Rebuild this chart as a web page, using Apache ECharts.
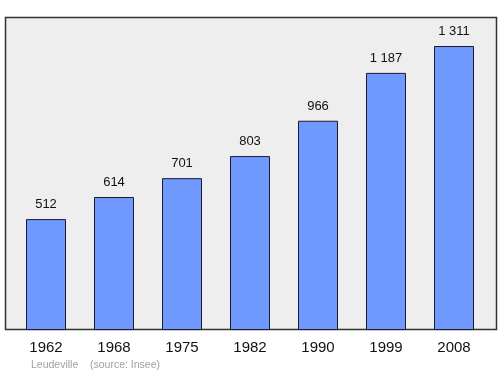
<!DOCTYPE html>
<html><head><meta charset="utf-8">
<script src="https://cdn.jsdelivr.net/npm/echarts@6/dist/echarts.min.js"></script>
<style>html,body{margin:0;padding:0;background:#fff}#c{width:500px;height:374px}</style>
</head><body><div id="c"></div>
<script>
const years = ['1962','1968','1975','1982','1990','1999','2008'];
const population = [512, 614, 701, 803, 966, 1187, 1311];
const sourceText = 'Leudeville    (source: Insee)';

const FONT = 'Liberation Sans, Arial, sans-serif';
const chart = echarts.init(document.getElementById('c'), null, {renderer:'canvas'});
chart.setOption({
  animation:false,
  backgroundColor:'#ffffff',
  title:{text:sourceText,left:26,top:355,textStyle:{fontFamily:FONT,fontSize:10.5,fontWeight:'normal',color:'#a0a0a0'}},
  graphic:[{type:'rect',z:-10,shape:{x:5.5,y:17.5,width:491,height:312},style:{fill:'#eeeeee',stroke:'#333333',lineWidth:1.5}}],
  grid:{left:12,right:12,top:17,bottom:44,containLabel:false},
  xAxis:{type:'category',data:years,axisLine:{show:false},axisTick:{show:false},
    axisLabel:{fontSize:15,color:'#111',margin:10,fontFamily:FONT}},
  yAxis:{type:'value',min:0,max:1445,show:false,splitLine:{show:false}},
  series:[{type:'bar',data:population,barWidth:40,
    itemStyle:{color:'#7099ff',borderColor:'#1a1a33',borderWidth:1},
    label:{show:true,position:'top',distance:8,fontSize:13,color:'#111',fontFamily:FONT,
      formatter:p=>String(p.value).replace(/\B(?=(\d{3})+(?!\d))/g,' ')}}]
});
</script></body></html>
